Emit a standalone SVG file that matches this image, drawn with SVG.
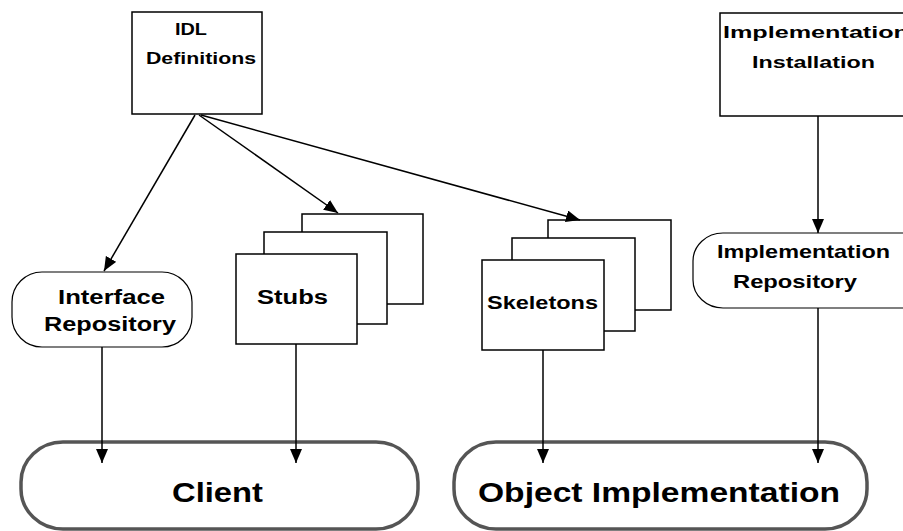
<svg xmlns="http://www.w3.org/2000/svg" width="903" height="531" viewBox="0 0 903 531">
  <style>
    .box { fill: #ffffff; stroke: #000000; stroke-width: 1.5; }
    .store { fill: #ffffff; stroke: #000000; stroke-width: 1.2; }
    .major { fill: #ffffff; stroke: #555555; stroke-width: 3.5; }
    .edge { fill: none; stroke: #000000; stroke-width: 1.5; marker-end: url(#head); }
    text { font-family: "Liberation Sans", Arial, sans-serif; font-weight: bold; fill: #000000; }
    .s16 { font-size: 16px; }
    .s19 { font-size: 19px; }
    .s20 { font-size: 20px; }
    .s27 { font-size: 27px; }
  </style>
  <defs>
    <marker id="head" markerWidth="14" markerHeight="12" refX="14" refY="6" orient="auto" markerUnits="userSpaceOnUse">
      <path d="M0,0 L14,6 L0,12 Z" fill="#000000"/>
    </marker>
  </defs>

  <rect width="903" height="531" fill="#ffffff"/>

  <!-- IDL source box -->
  <g id="idl-definitions">
    <rect class="box" x="132" y="12" width="130" height="102"/>
    <text class="s16" x="175" y="35" textLength="32" lengthAdjust="spacingAndGlyphs">IDL</text>
    <text class="s16" x="146" y="64" textLength="110" lengthAdjust="spacingAndGlyphs">Definitions</text>
  </g>

  <!-- Installation box (runs past the right edge) -->
  <g id="implementation-installation">
    <rect class="box" x="720" y="13" width="200" height="103"/>
    <text class="s16" x="723" y="38" textLength="186" lengthAdjust="spacingAndGlyphs">Implementation</text>
    <text class="s16" x="752" y="68" textLength="123" lengthAdjust="spacingAndGlyphs">Installation</text>
  </g>

  <!-- Interface repository -->
  <g id="interface-repository">
    <rect class="store" x="12" y="272" width="180" height="75" rx="30" ry="30"/>
    <text class="s20" x="58" y="304" textLength="107" lengthAdjust="spacingAndGlyphs">Interface</text>
    <text class="s20" x="44" y="331" textLength="132" lengthAdjust="spacingAndGlyphs">Repository</text>
  </g>

  <!-- Stub stack -->
  <g id="stubs">
    <rect class="box" x="302" y="214" width="121" height="90"/>
    <rect class="box" x="264" y="232" width="123" height="92"/>
    <rect class="box" x="236" y="254" width="121" height="90"/>
    <text class="s20" x="257" y="304" textLength="71" lengthAdjust="spacingAndGlyphs">Stubs</text>
  </g>

  <!-- Skeleton stack -->
  <g id="skeletons">
    <rect class="box" x="548" y="220" width="123" height="90"/>
    <rect class="box" x="512" y="238" width="123" height="93"/>
    <rect class="box" x="482" y="260" width="122" height="90"/>
    <text class="s19" x="487" y="309" textLength="111" lengthAdjust="spacingAndGlyphs">Skeletons</text>
  </g>

  <!-- Implementation repository (runs past the right edge) -->
  <g id="implementation-repository">
    <rect class="store" x="693" y="233" width="240" height="75" rx="30" ry="28"/>
    <text class="s19" x="717" y="258" textLength="173" lengthAdjust="spacingAndGlyphs">Implementation</text>
    <text class="s19" x="733" y="288" textLength="124" lengthAdjust="spacingAndGlyphs">Repository</text>
  </g>

  <!-- Client -->
  <g id="client">
    <rect class="major" x="21" y="442" width="397" height="87" rx="42" ry="40"/>
    <text class="s27" x="172" y="502" textLength="91" lengthAdjust="spacingAndGlyphs">Client</text>
  </g>

  <!-- Object implementation -->
  <g id="object-implementation">
    <rect class="major" x="454" y="442" width="413" height="87" rx="42" ry="40"/>
    <text class="s27" x="478" y="502" textLength="362" lengthAdjust="spacingAndGlyphs">Object Implementation</text>
  </g>

  <!-- Connectors -->
  <g id="connectors">
    <line class="edge" x1="195" y1="115" x2="104" y2="271"/>
    <line class="edge" x1="199" y1="115" x2="338" y2="213"/>
    <line class="edge" x1="201" y1="115" x2="580" y2="220"/>
    <line class="edge" x1="818" y1="116" x2="818" y2="233"/>
    <line class="edge" x1="102" y1="347" x2="102" y2="463"/>
    <line class="edge" x1="296" y1="344" x2="296" y2="463"/>
    <line class="edge" x1="543" y1="350" x2="543" y2="463"/>
    <line class="edge" x1="818" y1="308" x2="818" y2="463"/>
  </g>
</svg>
